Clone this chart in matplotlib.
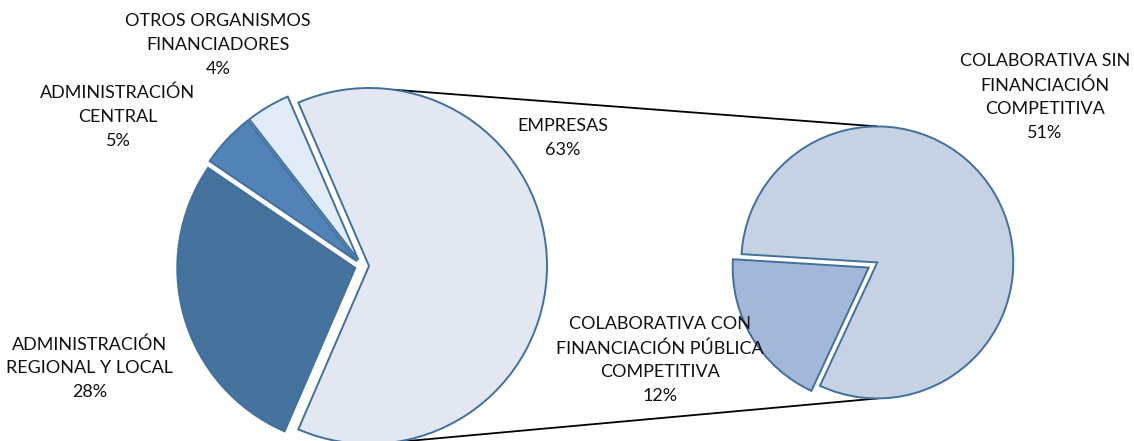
import numpy as np
import matplotlib.pyplot as plt

plt.rcParams['font.family'] = ['Lato', 'DejaVu Sans']

# main pie: funding sources (%)
fuentes = ['EMPRESAS', 'OTROS ORGANISMOS\nFINANCIADORES', 'ADMINISTRACIÓN\nCENTRAL',
           'ADMINISTRACIÓN\nREGIONAL Y LOCAL']
fuentes_pct = [63, 4, 5, 28]
fuentes_col = ['#E2E7F1', '#E1ECF8', '#5183B7', '#46729E']

# secondary pie: breakdown of EMPRESAS (%)
empresas = ['COLABORATIVA CON\nFINANCIACIÓN PÚBLICA\nCOMPETITIVA',
            'COLABORATIVA SIN\nFINANCIACIÓN\nCOMPETITIVA']
empresas_pct = [12, 51]
empresas_col = ['#A3B7D9', '#C6D1E4']

W, H = 1134, 441
fig = plt.figure(figsize=(W / 100, H / 100), dpi=100)
ax = fig.add_axes([0, 0, 1, 1])

edge = dict(edgecolor='#41709C', linewidth=1.4)

# left pie, EMPRESAS centred on the right side
c1, r1, ex1 = np.array([362.0, 175.0]), 178, 7
start1 = -360 * fuentes_pct[0] / 100 / 2
ax.pie(fuentes_pct, colors=fuentes_col, radius=r1, center=c1, startangle=start1,
       explode=[ex1] * 4, wedgeprops=edge, frame=True)

# right pie
c2, r2, ex2 = np.array([873.0, 176.0]), 136, 5
start2 = 176.5
ax.pie(empresas_pct, colors=empresas_col, radius=r2, center=c2, startangle=start2,
       explode=[ex2] * 2, wedgeprops=edge, frame=True)
ax.set_xlim(0, W)
ax.set_ylim(0, H)
ax.set_aspect('equal')
ax.axis('off')

# connector lines from EMPRESAS wedge to the right pie
ce = c1 + np.array([ex1, 0])
tot2 = sum(empresas_pct)
mid_sin = np.deg2rad(start2 + 360 * empresas_pct[0] / tot2 + 180 * empresas_pct[1] / tot2)
cs = c2 + ex2 * np.array([np.cos(mid_sin), np.sin(mid_sin)])
for s in (1, -1):
    a = np.deg2rad(82 * s)
    p1 = ce + r1 * np.array([np.cos(a), np.sin(a)])
    p2 = cs + np.array([0, s * r2])
    ax.plot([p1[0], p2[0]], [p1[1], p2[1]], color='black', lw=1.3, zorder=0)

# data labels
def label(x, y, name, pct):
    ax.text(x, H - y, f'{name}\n{pct}%', ha='center', va='top', fontsize=13,
            linespacing=1.6, color='#111111', zorder=5)

label(218, 13, fuentes[1], fuentes_pct[1])
label(118, 85, fuentes[2], fuentes_pct[2])
label(90, 336, fuentes[3], fuentes_pct[3])
label(563, 118, fuentes[0], fuentes_pct[0])
label(1045, 53, empresas[1], empresas_pct[1])
label(660, 316, empresas[0], empresas_pct[0])

fig.savefig('out.png', dpi=100)
